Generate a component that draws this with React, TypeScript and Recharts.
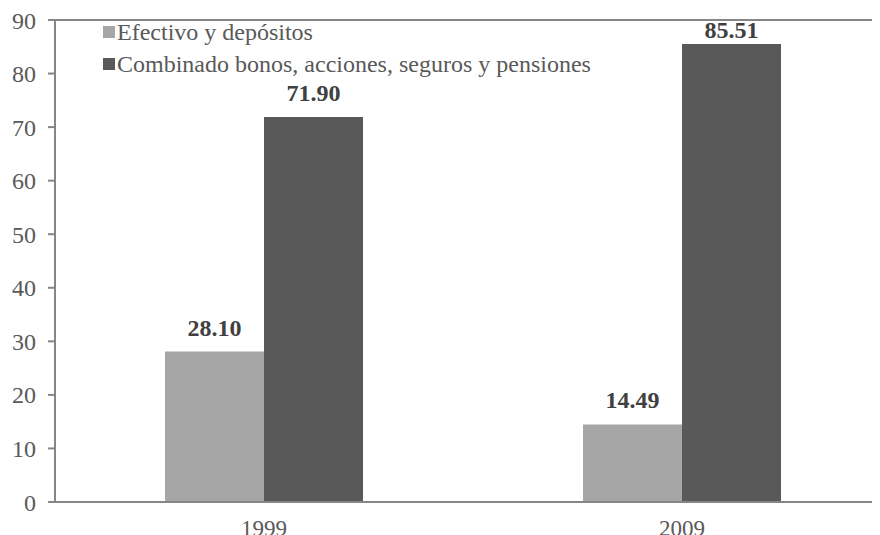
import { BarChart, Bar, XAxis, YAxis, LabelList, Legend, ReferenceLine } from "recharts";

const years = ["1999", "2009"];
const efectivo = [28.1, 14.49];
const combinado = [71.9, 85.51];
const yTicks = [0, 10, 20, 30, 40, 50, 60, 70, 80, 90];

const seriesNames = {
  efectivo: "Efectivo y depósitos",
  combinado: "Combinado bonos, acciones, seguros y pensiones",
};

const data = years.map((year, i) => ({
  year,
  efectivo: efectivo[i],
  combinado: combinado[i],
}));

const FONT = '"Liberation Serif", "Times New Roman", serif';
const AXIS = "#868686";
const TEXT = "#595959";

function LegendBox() {
  const items = [
    { name: seriesNames.efectivo, color: "#A6A6A6" },
    { name: seriesNames.combinado, color: "#595959" },
  ];
  return (
    <div style={{ fontFamily: FONT, fontSize: 24, color: TEXT, lineHeight: "32px" }}>
      {items.map((it) => (
        <div key={it.name} style={{ display: "flex", alignItems: "center", whiteSpace: "nowrap" }}>
          <span style={{ width: 12, height: 12, background: it.color, marginRight: 2, display: "inline-block" }} />
          <span>{it.name}</span>
        </div>
      ))}
    </div>
  );
}

// value label above the bar; kept inside the plot near the top like Excel does
function ValueLabel(props: any) {
  const { x, y, width, value } = props;
  const ty = Math.max(Number(y) - 16, 30);
  return (
    <text
      x={Number(x) + Number(width) / 2}
      y={ty}
      textAnchor="middle"
      fill="#404040"
      fontSize={24}
      fontWeight="bold"
      fontFamily={FONT}
    >
      {Number(value).toFixed(2)}
    </text>
  );
}

export default function App() {
  return (
    <div style={{ width: 872, height: 527, overflow: "hidden", position: "relative" }}>
      <BarChart
        width={883}
        height={540}
        data={data}
        margin={{ top: 12, right: 0, bottom: 0, left: 0 }}
        barGap={0}
        barCategoryGap={110}
      >
        <XAxis
          dataKey="year"
          axisLine={{ stroke: AXIS, strokeWidth: 2 }}
          tickLine={false}
          tickSize={0}
          tickMargin={18}
          height={46}
          tick={{ fill: TEXT, fontSize: 23, fontFamily: FONT }}
        />
        <YAxis
          width={47}
          domain={[0, 90]}
          ticks={yTicks}
          interval={0}
          axisLine={{ stroke: AXIS, strokeWidth: 2 }}
          tickLine={{ stroke: AXIS, strokeWidth: 2 }}
          tickSize={7}
          tickMargin={12}
          tick={{ fill: TEXT, fontSize: 24, fontFamily: FONT }}
        />
        <ReferenceLine y={90} stroke={AXIS} strokeWidth={2} />
        <Legend
          layout="horizontal"
          verticalAlign="middle"
          align="center"
          wrapperStyle={{ top: 8, left: 95, width: "auto" }}
          content={() => <LegendBox />}
        />
        <Bar dataKey="efectivo" name={seriesNames.efectivo} fill="#A6A6A6" isAnimationActive={false}>
          <LabelList dataKey="efectivo" content={ValueLabel} />
        </Bar>
        <Bar dataKey="combinado" name={seriesNames.combinado} fill="#595959" isAnimationActive={false}>
          <LabelList dataKey="combinado" content={ValueLabel} />
        </Bar>
      </BarChart>
    </div>
  );
}
